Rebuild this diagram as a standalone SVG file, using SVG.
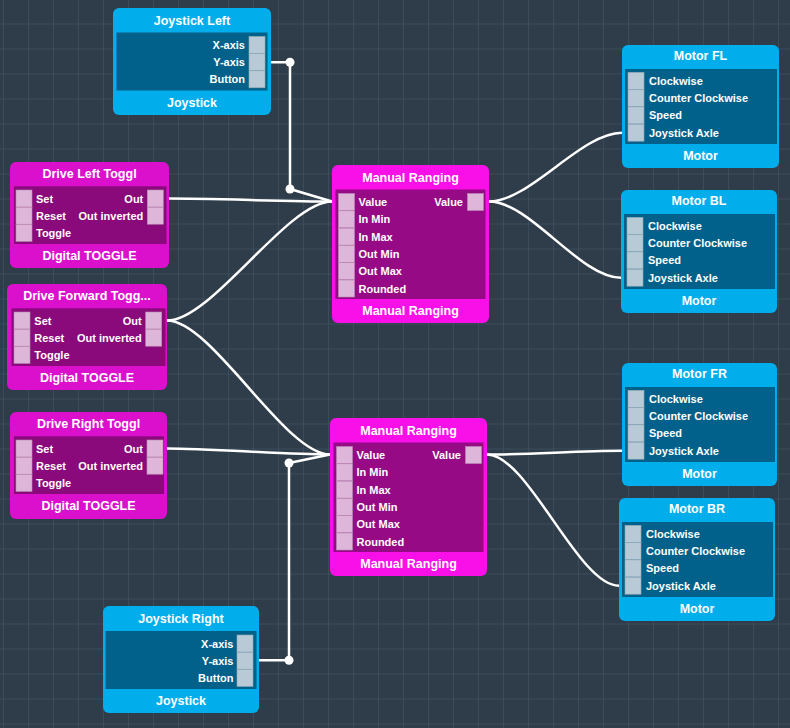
<svg xmlns="http://www.w3.org/2000/svg" width="790" height="728" viewBox="0 0 790 728">
<defs>
<pattern id="grid" x="3" y="23.5" width="25" height="25" patternUnits="userSpaceOnUse">
<path d="M0,0 H25 M0,0 V25" fill="none" stroke="#48596a" stroke-width="1"/>
</pattern>
<style>
text{font-family:"Liberation Sans",Arial,Helvetica,sans-serif;font-weight:bold;fill:#ffffff}
.t{font-size:12.5px;text-anchor:middle}
.l{font-size:11px}
.r{font-size:11px;text-anchor:end}
.bo{fill:#02adeb}
.bp{fill:#02618a}
.bq{fill:#b7cad6;stroke:#8fa9b8;stroke-width:0.6}
.mo{fill:#da10cd}
.mp{fill:#8a0a7b}
.ro{fill:#f90fe8}
.rp{fill:#960b85}
.mq{fill:#ddb6d9;stroke:#b98bb4;stroke-width:0.6}
.e{fill:none;stroke:#ffffff;stroke-width:2.5;stroke-linecap:round;stroke-linejoin:round}
</style>
</defs>
<rect width="790" height="728" fill="#2f3d4a"/>
<rect width="790" height="728" fill="url(#grid)"/>

<g id="connectors">
<path class="e" d="M271,62.3 H290 V189 L332,201.5"/>
<path class="e" d="M169,198.6 C210,198.6 291,201.5 332,201.5"/>
<path class="e" d="M167,320.6 C212,320.6 287,201.5 332,201.5"/>
<path class="e" d="M167,320.6 C212,320.6 285,454.5 330,454.5"/>
<path class="e" d="M167,448.6 C208,448.6 289,454.5 330,454.5"/>
<path class="e" d="M259,660.3 H289 V463 L330,454.5"/>
<path class="e" d="M489,201.5 C530,201.5 581,132.8 622,132.8"/>
<path class="e" d="M489,201.5 C530,201.5 580,277.8 621,277.8"/>
<path class="e" d="M487,454.5 C528,454.5 581,450.8 622,450.8"/>
<path class="e" d="M487,454.5 C528,454.5 578,585.8 619,585.8"/>
<circle cx="290" cy="62.3" r="4.5" fill="#ffffff"/>
<circle cx="290" cy="189" r="4.5" fill="#ffffff"/>
<circle cx="289" cy="660.3" r="4.5" fill="#ffffff"/>
<circle cx="289" cy="463" r="4.5" fill="#ffffff"/>
</g>

<g id="joystick-left" transform="translate(113,8)">
<rect class="bo" x="0" y="0" width="158" height="107" rx="6"/>
<text class="t" x="79" y="16.5">Joystick Left</text>
<rect class="bp" x="3.5" y="24.5" width="151" height="58"/>
<rect class="bq" x="136" y="28.4" width="16" height="17"/>
<rect class="bq" x="136" y="45.6" width="16" height="17"/>
<rect class="bq" x="136" y="62.8" width="16" height="17"/>
<text class="r" x="132" y="40.9">X-axis</text>
<text class="r" x="132" y="58.1">Y-axis</text>
<text class="r" x="132" y="75.3">Button</text>
<text class="t" x="79" y="99">Joystick</text>
</g>

<g id="joystick-right" transform="translate(103,606)">
<rect class="bo" x="0" y="0" width="156" height="107" rx="6"/>
<text class="t" x="78" y="16.5">Joystick Right</text>
<rect class="bp" x="2.5" y="25" width="151" height="58"/>
<rect class="bq" x="134" y="29" width="16" height="17"/>
<rect class="bq" x="134" y="46.2" width="16" height="17"/>
<rect class="bq" x="134" y="63.4" width="16" height="17"/>
<text class="r" x="130.5" y="41.5">X-axis</text>
<text class="r" x="130.5" y="58.7">Y-axis</text>
<text class="r" x="130.5" y="75.9">Button</text>
<text class="t" x="78" y="99">Joystick</text>
</g>

<g id="drive-left-toggle" transform="translate(10,162)">
<rect class="mo" x="0" y="0" width="159" height="106" rx="6"/>
<text class="t" x="79.5" y="16.2">Drive Left Toggl</text>
<rect class="mp" x="4" y="24.3" width="152.5" height="57.7"/>
<rect class="mq" x="6" y="28" width="16" height="17"/>
<rect class="mq" x="6" y="45.2" width="16" height="17"/>
<rect class="mq" x="6" y="62.4" width="16" height="17"/>
<rect class="mq" x="137.3" y="28" width="16" height="17"/>
<rect class="mq" x="137.3" y="45.2" width="16" height="17"/>
<text class="l" x="26" y="40.5">Set</text>
<text class="l" x="26" y="57.7">Reset</text>
<text class="l" x="26" y="74.9">Toggle</text>
<text class="r" x="133.3" y="40.5">Out</text>
<text class="r" x="133.3" y="57.7">Out inverted</text>
<text class="t" x="79.5" y="98.2">Digital TOGGLE</text>
</g>

<g id="drive-forward-toggle" transform="translate(7,284)">
<rect class="mo" x="0" y="0" width="160" height="106" rx="6"/>
<text class="t" x="80" y="16.2">Drive Forward Togg...</text>
<rect class="mp" x="4.5" y="24.3" width="154" height="57.7"/>
<rect class="mq" x="7" y="28" width="16" height="17"/>
<rect class="mq" x="7" y="45.2" width="16" height="17"/>
<rect class="mq" x="7" y="62.4" width="16" height="17"/>
<rect class="mq" x="138.7" y="28" width="16" height="17"/>
<rect class="mq" x="138.7" y="45.2" width="16" height="17"/>
<text class="l" x="27.3" y="40.5">Set</text>
<text class="l" x="27.3" y="57.7">Reset</text>
<text class="l" x="27.3" y="74.9">Toggle</text>
<text class="r" x="134.7" y="40.5">Out</text>
<text class="r" x="134.7" y="57.7">Out inverted</text>
<text class="t" x="80" y="98.2">Digital TOGGLE</text>
</g>

<g id="drive-right-toggle" transform="translate(10,412)">
<rect class="mo" x="0" y="0" width="157" height="107" rx="6"/>
<text class="t" x="78.5" y="16.2">Drive Right Toggl</text>
<rect class="mp" x="4" y="24.3" width="150" height="57.7"/>
<rect class="mq" x="6" y="28" width="16" height="17"/>
<rect class="mq" x="6" y="45.2" width="16" height="17"/>
<rect class="mq" x="6" y="62.4" width="16" height="17"/>
<rect class="mq" x="137" y="28" width="16" height="17"/>
<rect class="mq" x="137" y="45.2" width="16" height="17"/>
<text class="l" x="26" y="40.5">Set</text>
<text class="l" x="26" y="57.7">Reset</text>
<text class="l" x="26" y="74.9">Toggle</text>
<text class="r" x="133" y="40.5">Out</text>
<text class="r" x="133" y="57.7">Out inverted</text>
<text class="t" x="78.5" y="98.2">Digital TOGGLE</text>
</g>

<g id="manual-ranging-top" transform="translate(332,165)">
<rect class="ro" x="0" y="0" width="157" height="158" rx="6"/>
<text class="t" x="78.5" y="16.5">Manual Ranging</text>
<rect class="rp" x="3.5" y="24.5" width="150" height="109.5"/>
<rect class="mq" x="6.5" y="28.5" width="16" height="17"/>
<rect class="mq" x="6.5" y="45.8" width="16" height="17"/>
<rect class="mq" x="6.5" y="63.1" width="16" height="17"/>
<rect class="mq" x="6.5" y="80.4" width="16" height="17"/>
<rect class="mq" x="6.5" y="97.7" width="16" height="17"/>
<rect class="mq" x="6.5" y="115" width="16" height="17"/>
<rect class="mq" x="135.5" y="28.5" width="16" height="17"/>
<text class="l" x="26.5" y="41">Value</text>
<text class="l" x="26.5" y="58.3">In Min</text>
<text class="l" x="26.5" y="75.6">In Max</text>
<text class="l" x="26.5" y="92.9">Out Min</text>
<text class="l" x="26.5" y="110.2">Out Max</text>
<text class="l" x="26.5" y="127.5">Rounded</text>
<text class="r" x="131" y="41">Value</text>
<text class="t" x="78.5" y="149.5">Manual Ranging</text>
</g>

<g id="manual-ranging-bottom" transform="translate(330,418)">
<rect class="ro" x="0" y="0" width="157" height="158" rx="6"/>
<text class="t" x="78.5" y="16.5">Manual Ranging</text>
<rect class="rp" x="3.5" y="24.5" width="150" height="109.5"/>
<rect class="mq" x="6.5" y="28.5" width="16" height="17"/>
<rect class="mq" x="6.5" y="45.8" width="16" height="17"/>
<rect class="mq" x="6.5" y="63.1" width="16" height="17"/>
<rect class="mq" x="6.5" y="80.4" width="16" height="17"/>
<rect class="mq" x="6.5" y="97.7" width="16" height="17"/>
<rect class="mq" x="6.5" y="115" width="16" height="17"/>
<rect class="mq" x="135.5" y="28.5" width="16" height="17"/>
<text class="l" x="26.5" y="41">Value</text>
<text class="l" x="26.5" y="58.3">In Min</text>
<text class="l" x="26.5" y="75.6">In Max</text>
<text class="l" x="26.5" y="92.9">Out Min</text>
<text class="l" x="26.5" y="110.2">Out Max</text>
<text class="l" x="26.5" y="127.5">Rounded</text>
<text class="r" x="131" y="41">Value</text>
<text class="t" x="78.5" y="149.5">Manual Ranging</text>
</g>

<g id="motor-fl" transform="translate(622,45)">
<rect class="bo" x="0" y="0" width="157" height="123" rx="6"/>
<text class="t" x="78.5" y="15.2">Motor FL</text>
<rect class="bp" x="3" y="24" width="152" height="75"/>
<rect class="bq" x="6" y="27.3" width="16" height="17"/>
<rect class="bq" x="6" y="44.6" width="16" height="17"/>
<rect class="bq" x="6" y="61.9" width="16" height="17"/>
<rect class="bq" x="6" y="79.2" width="16" height="17"/>
<text class="l" x="27" y="39.8">Clockwise</text>
<text class="l" x="27" y="57.1">Counter Clockwise</text>
<text class="l" x="27" y="74.4">Speed</text>
<text class="l" x="27" y="91.7">Joystick Axle</text>
<text class="t" x="78.5" y="115.2">Motor</text>
</g>

<g id="motor-bl" transform="translate(621,190)">
<rect class="bo" x="0" y="0" width="156" height="123" rx="6"/>
<text class="t" x="78" y="15.2">Motor BL</text>
<rect class="bp" x="3" y="24" width="151" height="75"/>
<rect class="bq" x="6" y="27.3" width="16" height="17"/>
<rect class="bq" x="6" y="44.6" width="16" height="17"/>
<rect class="bq" x="6" y="61.9" width="16" height="17"/>
<rect class="bq" x="6" y="79.2" width="16" height="17"/>
<text class="l" x="27" y="39.8">Clockwise</text>
<text class="l" x="27" y="57.1">Counter Clockwise</text>
<text class="l" x="27" y="74.4">Speed</text>
<text class="l" x="27" y="91.7">Joystick Axle</text>
<text class="t" x="78" y="115.2">Motor</text>
</g>

<g id="motor-fr" transform="translate(622,363)">
<rect class="bo" x="0" y="0" width="155" height="123" rx="6"/>
<text class="t" x="77.5" y="15.2">Motor FR</text>
<rect class="bp" x="3" y="24" width="150" height="75"/>
<rect class="bq" x="6" y="27.3" width="16" height="17"/>
<rect class="bq" x="6" y="44.6" width="16" height="17"/>
<rect class="bq" x="6" y="61.9" width="16" height="17"/>
<rect class="bq" x="6" y="79.2" width="16" height="17"/>
<text class="l" x="27" y="39.8">Clockwise</text>
<text class="l" x="27" y="57.1">Counter Clockwise</text>
<text class="l" x="27" y="74.4">Speed</text>
<text class="l" x="27" y="91.7">Joystick Axle</text>
<text class="t" x="77.5" y="115.2">Motor</text>
</g>

<g id="motor-br" transform="translate(619,498)">
<rect class="bo" x="0" y="0" width="156" height="123" rx="6"/>
<text class="t" x="78" y="15.2">Motor BR</text>
<rect class="bp" x="3" y="24" width="151" height="75"/>
<rect class="bq" x="6" y="27.3" width="16" height="17"/>
<rect class="bq" x="6" y="44.6" width="16" height="17"/>
<rect class="bq" x="6" y="61.9" width="16" height="17"/>
<rect class="bq" x="6" y="79.2" width="16" height="17"/>
<text class="l" x="27" y="39.8">Clockwise</text>
<text class="l" x="27" y="57.1">Counter Clockwise</text>
<text class="l" x="27" y="74.4">Speed</text>
<text class="l" x="27" y="91.7">Joystick Axle</text>
<text class="t" x="78" y="115.2">Motor</text>
</g>
</svg>
